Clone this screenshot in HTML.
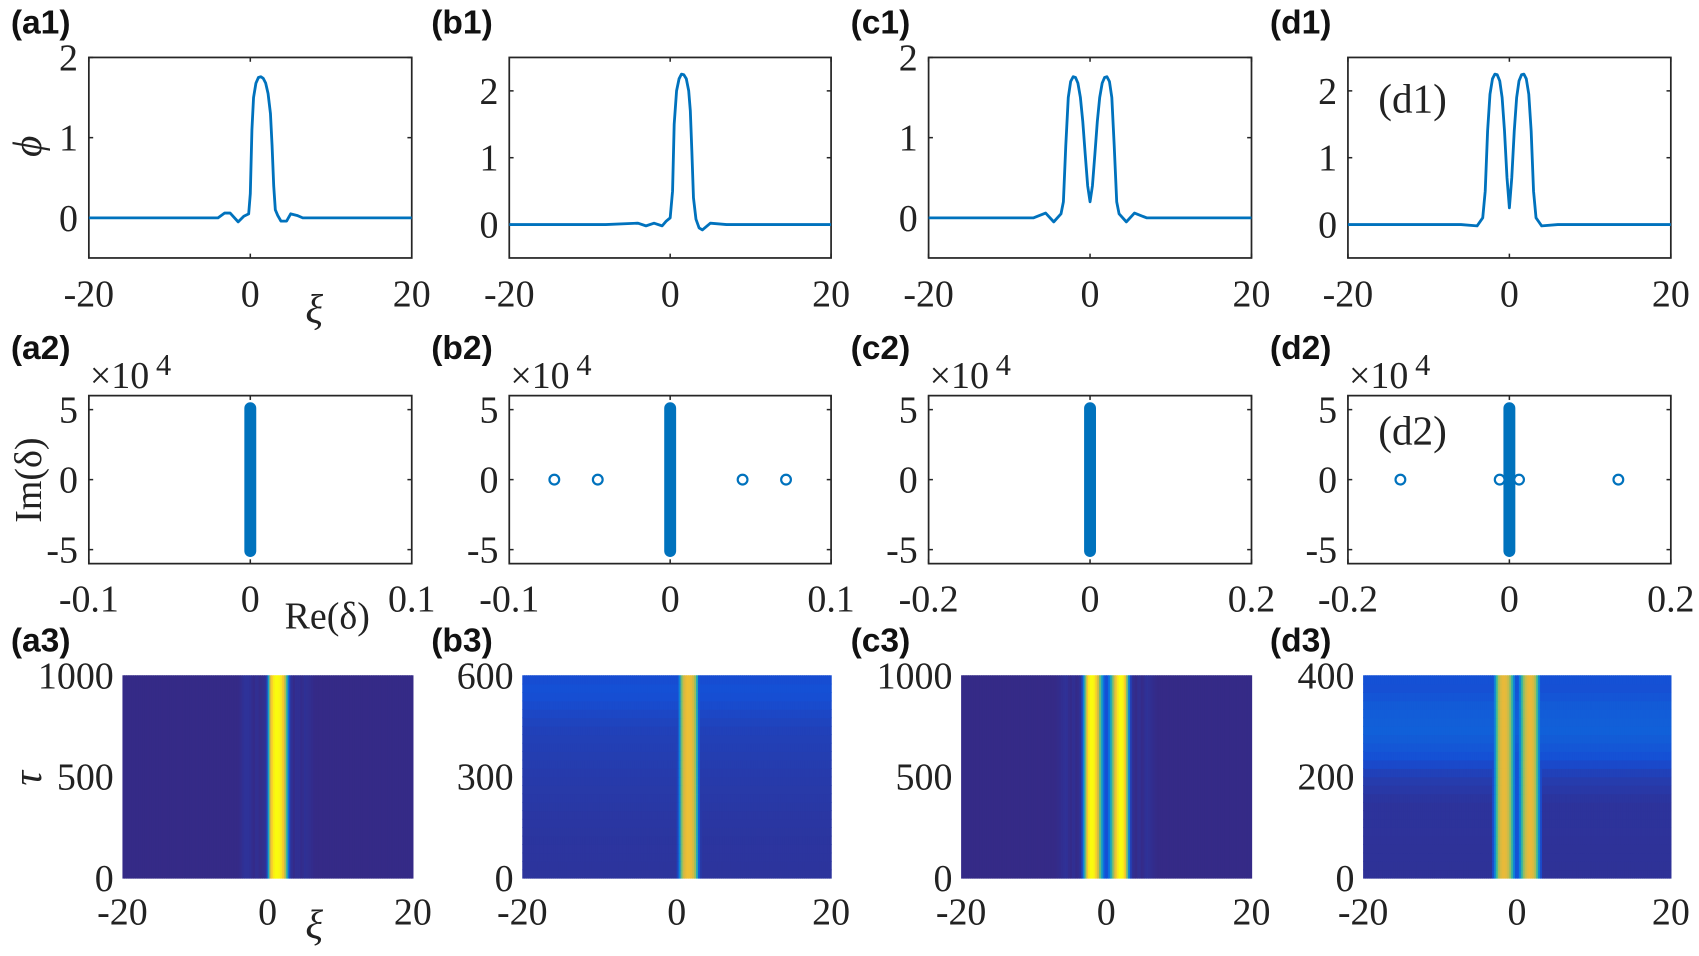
<!DOCTYPE html>
<html><head><meta charset="utf-8"><style>
html,body{margin:0;padding:0;background:#fff;}
svg{display:block;}
.t{font-family:"Liberation Serif",serif;font-size:35px;fill:#222;}
.p{font-family:"Liberation Sans",sans-serif;font-size:31px;font-weight:bold;fill:#111;}
</style></head><body>
<svg id="fig" width="1699" height="956" viewBox="0 0 1568 882" preserveAspectRatio="none" xmlns="http://www.w3.org/2000/svg"></svg>
<script>
// ---- data ----
const xiA = [-20,-5,-4,-3.2,-2.5,-1.5,-0.8,-0.2,0,0.2,0.4,0.7,1,1.3,1.6,1.9,2.2,2.5,2.7,2.9,3.1,3.4,3.8,4.5,5,5.8,6.5,7.5,20];
const phiA = [0,0,0,0.06,0.06,-0.05,0.02,0.05,0.3,1.1,1.5,1.68,1.75,1.76,1.74,1.68,1.55,1.3,0.9,0.4,0.1,0.03,-0.04,-0.04,0.05,0.03,0,0,0];
const xiB = [-20,-8,-4,-3,-2,-1,-0.5,0,0.3,0.5,0.8,1.1,1.4,1.7,2,2.3,2.5,2.7,2.9,3.2,3.6,4,5,7,20];
const phiB = [0,0,0.02,-0.02,0.02,-0.02,0.05,0.1,0.5,1.5,2.0,2.18,2.25,2.24,2.18,2.0,1.7,1.1,0.4,0.08,-0.05,-0.08,0.02,0,0];
const xiC = [-20,-7,-5.5,-4.5,-3.6,-3.3,-3.0,-2.7,-2.4,-2.1,-1.8,-1.5,-1.2,-0.9,-0.6,-0.3,0,0.3,0.6,0.9,1.2,1.5,1.8,2.1,2.4,2.7,3.0,3.3,3.6,4.5,5.5,7,20];
const phiC = [0,0,0.06,-0.05,0.05,0.2,0.9,1.5,1.7,1.76,1.75,1.68,1.5,1.2,0.8,0.4,0.2,0.4,0.8,1.2,1.5,1.68,1.75,1.76,1.7,1.5,0.9,0.2,0.05,-0.05,0.06,0,0];
const xiD = [-20,-6,-4,-3.3,-3.0,-2.7,-2.4,-2.1,-1.8,-1.5,-1.2,-0.9,-0.6,-0.3,0,0.3,0.6,0.9,1.2,1.5,1.8,2.1,2.4,2.7,3.0,3.3,4,6,20];
const phiD = [0,0,-0.02,0.1,0.5,1.4,1.95,2.18,2.25,2.24,2.15,1.9,1.4,0.7,0.25,0.7,1.4,1.9,2.15,2.24,2.25,2.18,1.95,1.4,0.5,0.1,-0.02,0,0];
const eigB = [-0.072,-0.045,0.045,0.072];
const eigD = [-0.135,-0.012,0.012,0.135];
const tauB = [0,150,300,450,520,560,600];
const bgB = [0.04,0.05,0.07,0.1,0.14,0.16,0.14];
const tauD = [0,150,200,240,290,340,380,400];
const bgD = [0.03,0.04,0.08,0.16,0.22,0.2,0.15,0.17];
const cmax = [1.75,2.55,1.75,2.6];
const xTicks1 = [-20,0,20];
const yTicksA1 = [0,1,2];
const yTicks2 = [-5,0,5];

// ---- helpers ----
const svg = document.getElementById('fig');
const NS = 'http://www.w3.org/2000/svg';
function mk(tag, attrs, parent){const e=document.createElementNS(NS,tag);for(const k in attrs)e.setAttribute(k,attrs[k]);(parent||svg).appendChild(e);return e;}
function txt(x,y,s,cls,anchor,parent){const e=mk('text',{x:x,y:y,class:cls,'text-anchor':anchor||'middle'},parent);e.textContent=s;return e;}
function lin(d0,d1,r0,r1){return v=>r0+(v-d0)/(d1-d0)*(r1-r0);}
function interp(xs,ys,x){if(x<=xs[0])return ys[0];for(let i=1;i<xs.length;i++){if(x<=xs[i]){const t=(x-xs[i-1])/(xs[i]-xs[i-1]);return ys[i-1]+t*(ys[i]-ys[i-1]);}}return ys[ys.length-1];}
const par=[[0,[53,42,135]],[0.15,[22,78,212]],[0.3,[12,118,222]],[0.45,[20,160,200]],[0.6,[60,185,150]],[0.75,[165,190,90]],[0.86,[232,185,58]],[0.94,[250,212,40]],[1,[249,251,14]]];
function cmap(v){v=Math.max(0,Math.min(1,v));for(let i=1;i<par.length;i++){if(v<=par[i][0]){const t=(v-par[i-1][0])/(par[i][0]-par[i-1][0]);const a=par[i-1][1],b=par[i][1];return 'rgb('+a.map((c,k)=>Math.round(c+t*(b[k]-c))).join(',')+')';}}return 'rgb(249,251,14)';}

const colX=[[82,380],[470,767],[857,1155],[1244,1542]];
const names=['a','b','c','d'];

// ---- row 1 ----
const prof=[[xiA,phiA],[xiB,phiB],[xiC,phiC],[xiD,phiD]];
const yl1=[[-0.5,2],[-0.5,2.5],[-0.5,2],[-0.5,2.5]];
for(let p=0;p<4;p++){
  const g=mk('g',{});
  
  
  const [x0,x1]=colX[p],y0=53,y1=238;
  const sx=lin(-20,20,x0,x1),sy=lin(yl1[p][0],yl1[p][1],y1,y0);
  const fr=mk('rect',{x:x0,y:y0,width:x1-x0,height:y1-y0,fill:'none',stroke:'#262626','stroke-width':1.6},g);
  
  xTicks1.forEach(v=>{const X=sx(v);mk('line',{x1:X,y1:y1,x2:X,y2:y1-4,stroke:'#262626','stroke-width':1.4},g);mk('line',{x1:X,y1:y0,x2:X,y2:y0+4,stroke:'#262626','stroke-width':1.4},g);const t=txt(X,283,String(v),'t','middle',g);});
  yTicksA1.forEach(v=>{const Y=sy(v);mk('line',{x1:x0,y1:Y,x2:x0+4,y2:Y,stroke:'#262626','stroke-width':1.4},g);mk('line',{x1:x1,y1:Y,x2:x1-4,y2:Y,stroke:'#262626','stroke-width':1.4},g);const t=txt(x0-10,Y+12,String(v),'t','end',g);});
  const [xs,ys]=prof[p];
  const pts=xs.map((x,i)=>sx(x).toFixed(1)+','+sy(ys[i]).toFixed(1)).join(' ');
  const pl=mk('polyline',{points:pts,fill:'none',stroke:'#0072bd','stroke-width':2.6,'stroke-linejoin':'round'},g);
  
  const lb=txt(x0-72,31,'('+names[p]+'1)','p','start',g);
  
}
// ---- row 2 ----
const xl2=[0.1,0.1,0.2,0.2];
const xt2=[['-0.1','0','0.1'],['-0.1','0','0.1'],['-0.2','0','0.2'],['-0.2','0','0.2']];
const eigs=[[],eigB,[],eigD];
for(let p=0;p<4;p++){
  const g=mk('g',{});
  
  
  const [x0,x1]=colX[p],y0=365,y1=520;
  const sx=lin(-xl2[p],xl2[p],x0,x1),sy=lin(-6,6,y1,y0);
  const fr=mk('rect',{x:x0,y:y0,width:x1-x0,height:y1-y0,fill:'none',stroke:'#262626','stroke-width':1.6},g);
  
  [-xl2[p],0,xl2[p]].forEach((v,i)=>{const X=sx(v);mk('line',{x1:X,y1:y1,x2:X,y2:y1-4,stroke:'#262626','stroke-width':1.4},g);mk('line',{x1:X,y1:y0,x2:X,y2:y0+4,stroke:'#262626','stroke-width':1.4},g);const t=txt(X,564,xt2[p][i],'t','middle',g);});
  yTicks2.forEach(v=>{const Y=sy(v);mk('line',{x1:x0,y1:Y,x2:x0+4,y2:Y,stroke:'#262626','stroke-width':1.4},g);mk('line',{x1:x1,y1:Y,x2:x1-4,y2:Y,stroke:'#262626','stroke-width':1.4},g);const t=txt(x0-10,Y+12,String(v),'t','end',g);});
  const bar=mk('line',{x1:sx(0),y1:sy(-5.1),x2:sx(0),y2:sy(5.1),stroke:'#0072bd','stroke-width':11,'stroke-linecap':'round'},g);
  
  eigs[p].forEach(v=>{const c=mk('circle',{cx:sx(v),cy:sy(0),r:4.5,fill:'#fff',stroke:'#0072bd','stroke-width':2},g);});
  const ex=txt(x0+1,358,'×10','t','start',g);
  const e4=txt(x0+62,346,'4','t','start',g);e4.setAttribute('style','font-size:28px');
  const lb=txt(x0-72,331,'('+names[p]+'2)','p','start',g);
  
}
// ---- row 3 ----
const colX3=[[113,381],[482,767],[887,1155],[1258,1542]];
const tmax=[1000,600,1000,400];
const yt3=[[0,500,1000],[0,300,600],[0,500,1000],[0,200,400]];
const bgs=[null,[tauB,bgB],null,[tauD,bgD]];
for(let p=0;p<4;p++){
  const g=mk('g',{});
  
  
  const [x0,x1]=colX3[p],y0=623,y1=810;
  const sx=lin(-20,20,x0,x1),sy=lin(0,tmax[p],y1,y0);
  const NC=160,NR=bgs[p]?24:1;
  const [xs,ys]=prof[p];
  for(let j=0;j<NR;j++){
    const ta=tmax[p]*j/NR,tb=tmax[p]*(j+1)/NR,tm=(ta+tb)/2;
    const bg=bgs[p]?interp(bgs[p][0],bgs[p][1],tm):0;
    const ya=sy(tb),yb=sy(ta);
    for(let i=0;i<NC;i++){
      const xa=-20+40*i/NC,xb=-20+40*(i+1)/NC,xm=(xa+xb)/2;
      const v=Math.max(bg,Math.abs(interp(xs,ys,xm))/cmax[p]);
      mk('rect',{x:sx(xa).toFixed(2),y:ya.toFixed(2),width:(sx(xb)-sx(xa)+0.6).toFixed(2),height:(yb-ya+0.6).toFixed(2),fill:cmap(v)},g);
    }
  }
  [-20,0,20].forEach(v=>{const t=txt(sx(v),853,String(v),'t','middle',g);});
  yt3[p].forEach(v=>{const t=txt(x0-8,sy(v)+12,String(v),'t','end',g);});
  const lb=txt(colX[p][0]-72,601,'('+names[p]+'3)','p','start',g);
  
}
// ---- axis titles / inset labels ----
function title(x,y,s,name,rot,style){const t=txt(x,y,s,'t','middle');if(rot)t.setAttribute('transform','rotate(-90 '+x+' '+y+')');if(style)t.setAttribute('style',style);return t;}
title(38,135,'ϕ','y-axis-title-phi',true,'font-style:italic;font-size:38px');
title(290,298,'ξ','x-axis-title-xi',false,'font-style:italic;font-size:38px');
title(38,443,'Im(δ)','y-axis-title-im',true);
title(302,580,'Re(δ)','x-axis-title-re',false);
title(38,718,'τ','y-axis-title-tau',true,'font-style:italic;font-size:38px');
title(290,866,'ξ','x-axis-title-xi-row3',false,'font-style:italic;font-size:38px');
const d1=txt(1272,104,'(d1)','t','start');d1.setAttribute('style','font-size:38px');

const d2=txt(1272,410,'(d2)','t','start');d2.setAttribute('style','font-size:38px');

</script>
</body></html>
